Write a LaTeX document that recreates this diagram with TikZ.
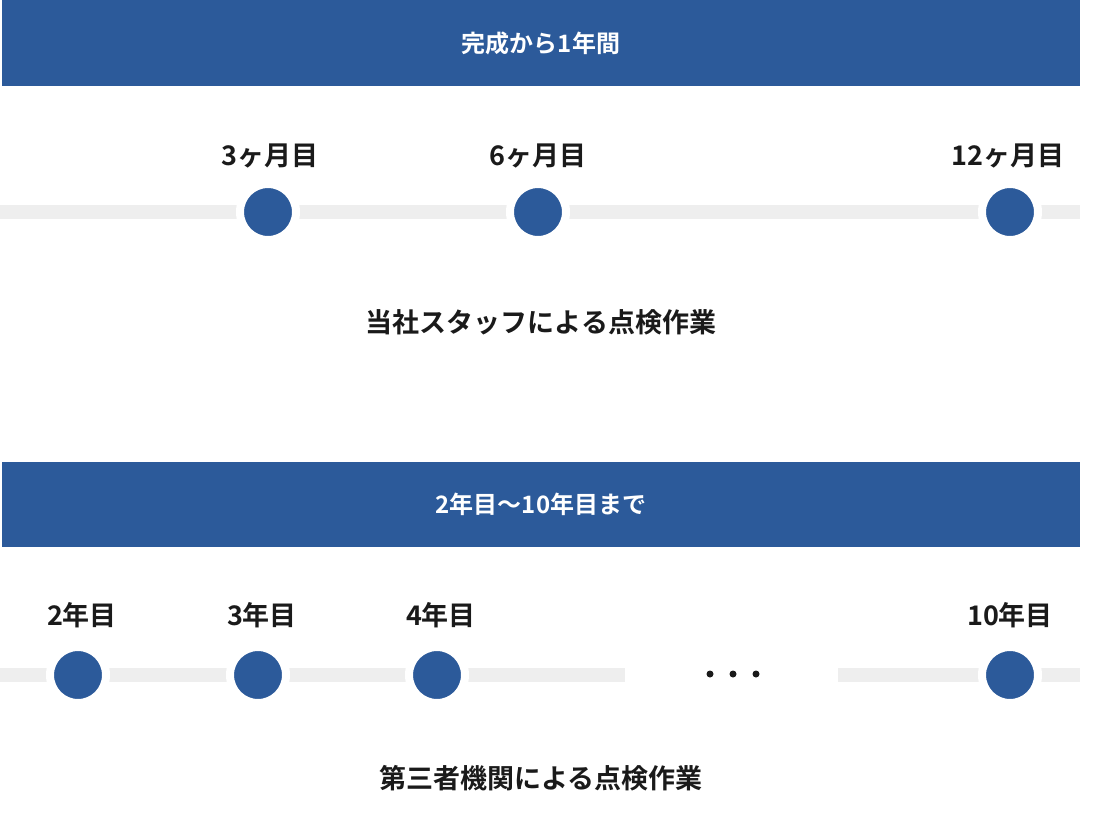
\documentclass[tikz,border=0pt]{standalone}
\usepackage{fontspec}
\setmainfont{Noto Sans CJK JP Bold}
\definecolor{navy}{HTML}{2C5A9A}
\definecolor{lgray}{HTML}{EEEEEE}
\definecolor{txt}{HTML}{1A1A1A}
\begin{document}
\begin{tikzpicture}[x=1pt,y=-1pt,
  bar/.style={fill=navy,draw=none},
  bartext/.style={text=white,font=\fontsize{24}{28}\selectfont},
  lbl/.style={text=txt,font=\fontsize{27}{30}\selectfont},
  dot/.style={circle,fill=navy,draw=white,line width=8pt,minimum size=56pt,inner sep=0pt},
  track/.style={lgray,line width=14pt}]
\useasboundingbox (0,0) rectangle (1114,812);
% top
\fill[navy] (2,0) rectangle (1080,86);
\node[bartext] (t1) at (541,43) {完成から1年間};
\draw[track] (0,212) -- (1080,212);
\node[dot] (a1) at (268,212) {};
\node[dot] (a2) at (538,212) {};
\node[dot] (a3) at (1010,212) {};
\node[lbl] (la1) at (270,156) {3ヶ月目};
\node[lbl] (la2) at (538,156) {6ヶ月目};
\node[lbl] (la3) at (1008,156) {12ヶ月目};
\node[lbl] (s1) at (541,322) {当社スタッフによる点検作業};
% bottom
\fill[navy] (2,462) rectangle (1080,547);
\node[bartext] (t2) at (541,504) {2年目〜10年目まで};
\draw[track] (0,675) -- (625,675);
\draw[track] (838,675) -- (1080,675);
\node[dot] (b1) at (78,675) {};
\node[dot] (b2) at (258,675) {};
\node[dot] (b3) at (437,675) {};
\node[dot] (b4) at (1010,675) {};
\node[lbl] (lb1) at (82,615) {2年目};
\node[lbl] (lb2) at (262,615) {3年目};
\node[lbl] (lb3) at (441,615) {4年目};
\node[lbl] (lb4) at (1010,615) {10年目};
\foreach \x in {710,733,756} \fill[txt] (\x,674) circle (3.5);
\node[lbl] (s2) at (541,778) {第三者機関による点検作業};
\end{tikzpicture}
\end{document}
